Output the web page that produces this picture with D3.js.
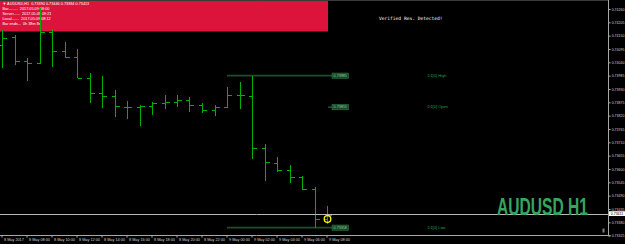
<!DOCTYPE html>
<html>
<head>
<meta charset="utf-8">
<script src="https://cdn.jsdelivr.net/npm/d3@7"></script>
<style>
  html, body { margin: 0; padding: 0; background: #000; }
  svg { display: block; }
</style>
</head>
<body>
<div id="chart"></div>
<script>
// hourly bars, 8 May 06:00 -> 9 May 08:00
const barTimes = [
  "2017-05-08 06:00", "2017-05-08 07:00", "2017-05-08 08:00", "2017-05-08 09:00",
  "2017-05-08 10:00", "2017-05-08 11:00", "2017-05-08 12:00", "2017-05-08 13:00",
  "2017-05-08 14:00", "2017-05-08 15:00", "2017-05-08 16:00", "2017-05-08 17:00",
  "2017-05-08 18:00", "2017-05-08 19:00", "2017-05-08 20:00", "2017-05-08 21:00",
  "2017-05-08 22:00", "2017-05-08 23:00", "2017-05-09 00:00", "2017-05-09 01:00",
  "2017-05-09 02:00", "2017-05-09 03:00", "2017-05-09 04:00", "2017-05-09 05:00",
  "2017-05-09 06:00", "2017-05-09 07:00", "2017-05-09 08:00"
];
const opens = [0.74112, 0.74143, 0.74044, 0.74036, 0.74164, 0.74087, 0.74063, 0.73976, 0.73912,
  0.73902, 0.73857, 0.73855, 0.73860, 0.73871, 0.73878, 0.73885, 0.73863, 0.73843, 0.73855,
  0.73906, 0.73900, 0.73685, 0.73625, 0.73596, 0.73567, 0.73516, 0.73393];
const highs = [0.74173, 0.74153, 0.74057, 0.74264, 0.74176, 0.74125, 0.74095, 0.73997, 0.73984,
  0.73926, 0.73880, 0.73862, 0.73878, 0.73905, 0.73905, 0.73896, 0.73874, 0.73864, 0.73937,
  0.73958, 0.73985, 0.73703, 0.73648, 0.73617, 0.73571, 0.73527, 0.73446];
const lows = [0.74018, 0.74029, 0.73963, 0.74032, 0.74022, 0.74057, 0.73974, 0.73873, 0.73853,
  0.73816, 0.73805, 0.73777, 0.73823, 0.73846, 0.73857, 0.73836, 0.73830, 0.73820, 0.73853,
  0.73846, 0.73640, 0.73552, 0.73589, 0.73544, 0.73513, 0.73358, 0.73372];
const closes = [0.74140, 0.74044, 0.74036, 0.74164, 0.74087, 0.74063, 0.73976, 0.73913, 0.73902,
  0.73859, 0.73855, 0.73859, 0.73871, 0.73878, 0.73885, 0.73863, 0.73843, 0.73855, 0.73906,
  0.73904, 0.73685, 0.73628, 0.73596, 0.73567, 0.73516, 0.73393, 0.73411];

const bid = 0.73411;

const priceTicks = [0.74260, 0.74205, 0.74150, 0.74095, 0.74040, 0.73985, 0.73930, 0.73875,
  0.73820, 0.73765, 0.73710, 0.73655, 0.73600, 0.73545, 0.73490, 0.73435, 0.73380, 0.73325];

const timeTicks = ["2017-05-08 06:00", "2017-05-08 08:00", "2017-05-08 10:00", "2017-05-08 12:00",
  "2017-05-08 14:00", "2017-05-08 16:00", "2017-05-08 18:00", "2017-05-08 20:00",
  "2017-05-08 22:00", "2017-05-09 00:00", "2017-05-09 02:00", "2017-05-09 04:00",
  "2017-05-09 06:00", "2017-05-09 08:00"];
const timeLabels = ["8 May 2017", "8 May 08:00", "8 May 10:00", "8 May 12:00", "8 May 14:00",
  "8 May 16:00", "8 May 18:00", "8 May 20:00", "8 May 22:00", "9 May 00:00", "9 May 02:00",
  "9 May 04:00", "9 May 06:00", "9 May 08:00"];

// daily levels
const levelNames = ["D1[0] High", "D1[0] Open", "D1[0] Low"];
const levelPrices = [0.73985, 0.73855, 0.73358];
const levelFull = [true, false, true];

const infoLines = [
  "\u25BC AUDUSD,H1  0.73390 0.73446 0.73384 0.73413",
  "Bar.........  2017.05.09 08:00",
  "Server......  2017.05.09 09:21",
  "Local.......  2017.05.09 08:12",
  "Bar ends...  0h 38m 8s"
];

// dimensions
const W = 625, H = 244;
const AXIS_X = 608.5, AXIS_Y = 235.5;
const FONT = "Liberation Sans, Arial, sans-serif";

const parse = d3.timeParse("%Y-%m-%d %H:%M");

const x = d3.scaleTime()
  .domain([parse(barTimes[0]), parse(barTimes[barTimes.length - 1])])
  .range([2, 327]);
const y = d3.scaleLinear()
  .domain([0.74260, 0.73435])
  .range([9, 209]);

const px = v => Math.round(v) + 0.5;

const $svg = d3.select("#chart").append("svg")
  .attr("width", W).attr("height", H)
  .style("background", "#000");

// info panel (bars are drawn over it)
$svg.append("rect")
  .attr("x", 0).attr("y", 0).attr("width", 328).attr("height", 31.5)
  .attr("fill", "#dc143c");
$svg.append("g").selectAll("text").data(infoLines).join("text")
  .attr("x", 2.5)
  .attr("y", (d, i) => 5.4 + i * 5)
  .attr("fill", "#fff")
  .attr("font-family", FONT)
  .attr("font-size", 3.8)
  .style("white-space", "pre")
  .text(d => d);

// frame
$svg.append("line").attr("x1", 0).attr("x2", AXIS_X).attr("y1", 0.5).attr("y2", 0.5)
  .attr("stroke", "#3a3a3a");

// daily level lines
const x0 = x(parse("2017-05-09 00:00"));
const xEnd = 332;
const $levels = $svg.append("g");
levelPrices.forEach((p, i) => {
  const yy = y(p);
  $levels.append("line")
    .attr("x1", levelFull[i] ? x0 : 328).attr("x2", xEnd)
    .attr("y1", yy).attr("y2", yy)
    .attr("stroke", "#1d4d2c").attr("stroke-width", 1.6);
  $levels.append("rect")
    .attr("x", xEnd).attr("y", yy - 2.6).attr("width", 16.5).attr("height", 5.2)
    .attr("fill", "#124a28").attr("stroke", "#2f7a4a").attr("stroke-width", 0.6);
  $levels.append("text")
    .attr("x", xEnd + 8.25).attr("y", yy + 1.3)
    .attr("text-anchor", "middle")
    .attr("fill", "#8fd6a6")
    .attr("font-family", FONT)
    .attr("font-size", 3.7)
    .text(p.toFixed(5));
  $levels.append("text")
    .attr("x", 427.5).attr("y", yy + 1.3)
    .attr("fill", "#2e9a55")
    .attr("font-family", FONT)
    .attr("font-size", 4)
    .text(levelNames[i]);
});

// OHLC bars
const bars = barTimes.map((t, i) => ({
  t: parse(t), o: opens[i], h: highs[i], l: lows[i], c: closes[i]
}));
const $bars = $svg.append("g")
  .attr("stroke", "#00b000")
  .attr("stroke-width", 1)
  .attr("shape-rendering", "crispEdges");
$bars.selectAll("line.hl").data(bars).join("line")
  .attr("class", "hl")
  .attr("x1", d => px(x(d.t))).attr("x2", d => px(x(d.t)))
  .attr("y1", d => y(d.h)).attr("y2", d => y(d.l));
$bars.selectAll("line.op").data(bars).join("line")
  .attr("class", "op")
  .attr("x1", d => px(x(d.t)) - 4).attr("x2", d => px(x(d.t)))
  .attr("y1", d => px(y(d.o))).attr("y2", d => px(y(d.o)));
$bars.selectAll("line.cl").data(bars).join("line")
  .attr("class", "cl")
  .attr("x1", d => px(x(d.t))).attr("x2", d => px(x(d.t)) + 4)
  .attr("y1", d => px(y(d.c))).attr("y2", d => px(y(d.c)));

// bid line
$svg.append("line")
  .attr("x1", 0).attr("x2", AXIS_X)
  .attr("y1", px(y(bid)) - 1).attr("y2", px(y(bid)) - 1)
  .attr("stroke", "#b8b8b8").attr("stroke-width", 1);

// marker on current bar
$svg.append("circle")
  .attr("cx", x(parse(barTimes[barTimes.length - 1])) + 0.5).attr("cy", 219)
  .attr("r", 3.3)
  .attr("fill", "none").attr("stroke", "#ffff00").attr("stroke-width", 1.3);

// verified text
$svg.append("text")
  .attr("x", 379).attr("y", 19.5)
  .attr("fill", "#fff")
  .attr("font-family", "DejaVu Sans Mono, monospace")
  .attr("font-size", 4.6)
  .style("white-space", "pre")
  .text("Verified Res. Detected!");

// big symbol label
$svg.append("text")
  .attr("x", 497).attr("y", 215)
  .attr("fill", "#35a55f")
  .attr("font-family", FONT)
  .attr("font-weight", "bold")
  .attr("font-size", 23)
  .attr("textLength", 91)
  .attr("lengthAdjust", "spacingAndGlyphs")
  .text("AUDUSD H1");

// price axis
const $yAxis = $svg.append("g")
  .attr("transform", `translate(${AXIS_X},0)`)
  .call(d3.axisRight(y).tickValues(priceTicks).tickFormat(d3.format(".5f")).tickSize(2).tickPadding(1.2));
$yAxis.select(".domain").remove();
$yAxis.selectAll("line").attr("stroke", "#b0b0b0");
$yAxis.selectAll("text")
  .attr("fill", "#d0d0d0")
  .attr("font-family", FONT)
  .attr("font-size", 3.5);
$svg.append("line").attr("x1", AXIS_X).attr("x2", AXIS_X).attr("y1", 0).attr("y2", AXIS_Y)
  .attr("stroke", "#a8a8a8");

// bid price tag
$svg.append("rect")
  .attr("x", 609).attr("y", y(bid) - 3.6).attr("width", 16).attr("height", 4.8)
  .attr("fill", "#fff");
$svg.append("text")
  .attr("x", 610.8).attr("y", y(bid) - 0.1)
  .attr("fill", "#000")
  .attr("font-family", FONT)
  .attr("font-size", 3.5)
  .text(bid.toFixed(5));

// time axis
const $xAxis = $svg.append("g")
  .attr("transform", `translate(0,${AXIS_Y})`)
  .call(d3.axisBottom(x)
    .tickValues(timeTicks.map(parse))
    .tickFormat((d, i) => timeLabels[i])
    .tickSize(2).tickPadding(1));
$xAxis.select(".domain").remove();
$xAxis.selectAll("line").attr("stroke", "#b0b0b0").attr("transform", "translate(-0.5,0)");
$xAxis.selectAll("text")
  .attr("text-anchor", "start")
  .attr("dx", 1.5)
  .attr("fill", "#d0d0d0")
  .attr("font-family", FONT)
  .attr("font-size", 3.8);
$svg.append("line").attr("x1", 0).attr("x2", AXIS_X + 2).attr("y1", AXIS_Y).attr("y2", AXIS_Y)
  .attr("stroke", "#a8a8a8");

// small trash icon near the corner
$svg.append("rect")
  .attr("x", 602.5).attr("y", 228.5).attr("width", 2).attr("height", 4)
  .attr("fill", "#808080");
</script>
</body>
</html>
